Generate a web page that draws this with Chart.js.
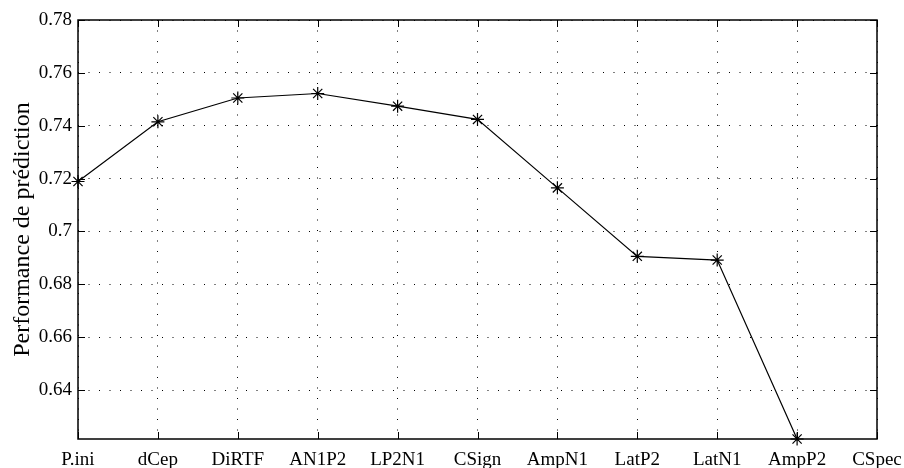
<!DOCTYPE html>
<html>
<head>
<meta charset="utf-8">
<script src="https://cdn.jsdelivr.net/npm/chart.js@4/dist/chart.umd.min.js"></script>
<style>
  html, body { margin: 0; padding: 0; background: #fff; }
  #wrap { width: 904px; height: 468px; }
</style>
</head>
<body>
<div id="wrap"><canvas id="perf"></canvas></div>
<script>
// feature sets, left to right
const labels = ['P.ini', 'dCep', 'DiRTF', 'AN1P2', 'LP2N1', 'CSign', 'AmpN1', 'LatP2', 'LatN1', 'AmpP2', 'CSpec'];
// prediction performance (no value for CSpec)
const perf = [0.7189, 0.7415, 0.7505, 0.7522, 0.7474, 0.7424, 0.7165, 0.6906, 0.6892, 0.6215];
const yTicks = [0.64, 0.66, 0.68, 0.70, 0.72, 0.74, 0.76, 0.78];
const yMin = 0.6215, yMax = 0.78;

const serif = "'Liberation Serif', 'DejaVu Serif', serif";

// box round the axes + inward tick marks, like matlab
const boxPlugin = {
  id: 'box',
  afterDraw(chart) {
    const { ctx, chartArea: a, scales } = chart;
    const len = 7;
    ctx.save();
    ctx.strokeStyle = '#000';
    ctx.lineWidth = 1;
    ctx.beginPath();
    scales.x.ticks.forEach((t, i) => {
      const px = Math.round(scales.x.getPixelForTick(i)) + 0.5;
      ctx.moveTo(px, a.bottom); ctx.lineTo(px, a.bottom - len);
      ctx.moveTo(px, a.top); ctx.lineTo(px, a.top + len);
    });
    scales.y.ticks.forEach(t => {
      const py = Math.round(scales.y.getPixelForValue(t.value)) + 0.5;
      ctx.moveTo(a.left, py); ctx.lineTo(a.left + len, py);
      ctx.moveTo(a.right, py); ctx.lineTo(a.right - len, py);
    });
    ctx.stroke();
    ctx.lineWidth = 1.5;
    ctx.strokeRect(a.left, a.top, a.right - a.left, a.bottom - a.top);
    ctx.restore();
  }
};

new Chart(document.getElementById('perf'), {
  type: 'line',
  data: {
    labels: labels,
    datasets: [{
      data: perf,
      borderColor: '#000',
      borderWidth: 1.2,
      pointStyle: 'star',
      pointRadius: 6.5,
      pointBorderColor: '#000',
      pointBorderWidth: 1.2,
      pointBackgroundColor: '#000',
      fill: false,
      tension: 0,
      clip: 12
    }]
  },
  options: {
    responsive: true,
    maintainAspectRatio: false,
    animation: false,
    layout: { padding: { top: 20, right: 27, left: 0, bottom: 0 } },
    plugins: {
      legend: { display: false },
      tooltip: { enabled: false }
    },
    scales: {
      x: {
        type: 'category',
        offset: false,
        grid: { color: '#000', lineWidth: 1, drawTicks: false },
        border: { display: false, dash: [1, 9.5] },
        ticks: { color: '#000', font: { family: serif, size: 19 }, padding: 10, maxRotation: 0, autoSkip: false },
        afterFit(scale) {
          scale.height = 29;
          scale.paddingLeft = 0;
          scale.paddingRight = 0;
        }
      },
      y: {
        min: yMin,
        max: yMax,
        grid: { color: '#000', lineWidth: 1, drawTicks: false },
        border: { display: false, dash: [1, 9.5] },
        afterBuildTicks(scale) { scale.ticks = yTicks.map(v => ({ value: v })); },
        ticks: {
          color: '#000',
          font: { family: serif, size: 19 },
          padding: 6,
          callback: v => String(Number(v.toFixed(2)))
        },
        title: { display: true, text: 'Performance de prédiction', color: '#000', font: { family: serif, size: 24 }, padding: { top: 8, bottom: 0 } },
        afterFit(scale) {
          scale.width = 78;
          scale.paddingTop = 0;
          scale.paddingBottom = 0;
        }
      }
    }
  },
  plugins: [boxPlugin]
});
</script>
</body>
</html>
